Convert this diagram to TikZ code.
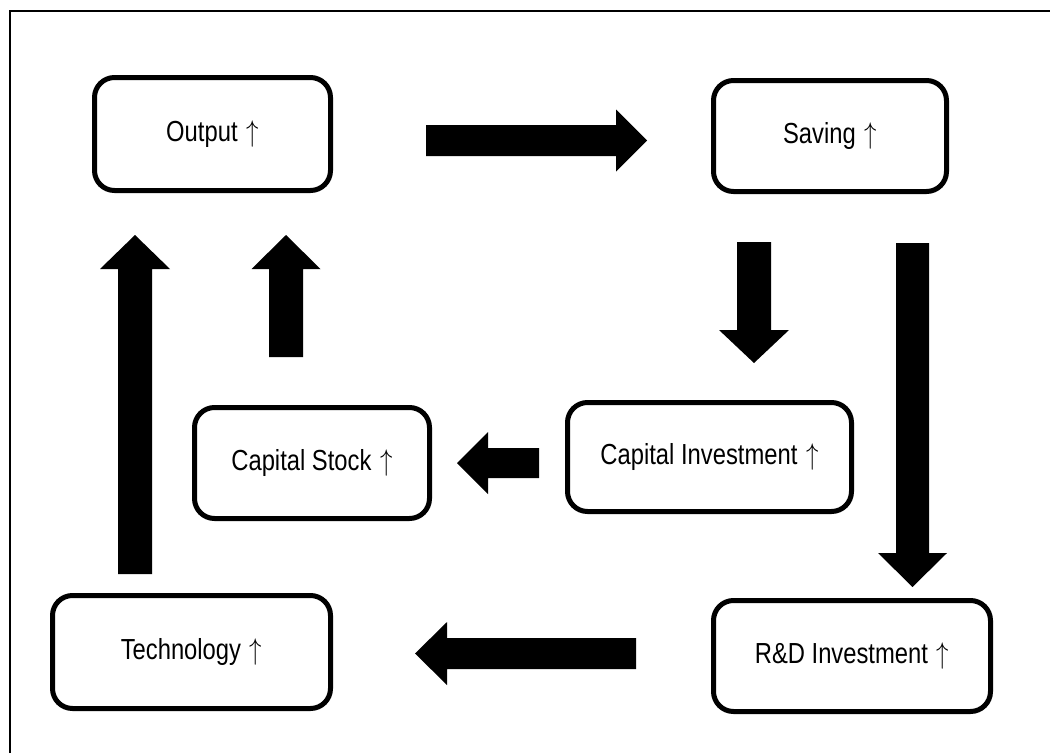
\documentclass[tikz,border=0pt]{standalone}
\usepackage{fontspec}
\setmainfont{Liberation Sans}[FakeStretch=0.82]
\usetikzlibrary{calc}
\newcommand\upar{\hspace{0.3em}\scalebox{1}[1.2]{\(\uparrow\)}}
\tikzset{
  box/.style={draw, line width=5pt, rounded corners=20pt, fill=white, align=center,
    inner sep=0pt, font=\fontsize{29pt}{34pt}\selectfont},
  frameline/.style={line width=2pt},
  arrowfill/.style={fill=black}
}
% block arrow from named start (#1) to named tip (#2):
% #3 half shaft width, #4 half head width, #5 head length
\newcommand\blockarrow[5]{%
  \coordinate (tmpB) at ($(#2)!#5!(#1)$);
  \fill[arrowfill] ($(#1)!#3!90:(#2)$) -- ($(tmpB)!#3!90:(#2)$) -- ($(tmpB)!#4!90:(#2)$)
    -- (#2) -- ($(tmpB)!#4!-90:(#2)$) -- ($(tmpB)!#3!-90:(#2)$) -- ($(#1)!#3!-90:(#2)$) -- cycle;
}
\begin{document}
\begin{tikzpicture}[x=1pt,y=-1pt]
\useasboundingbox (0,0) rectangle (1050,753);
% frame
\draw[frameline] (10,753) -- (10,11) -- (1050,11);
% boxes
\node[box, minimum width=236pt, minimum height=113pt] (out) at (212.5,134) {Output\upar};
\node[box, minimum width=233pt, minimum height=111pt] (sav) at (830,136) {Saving\upar};
\node[box, minimum width=284pt, minimum height=109pt] (cinv) at (709.5,457) {Capital Investment\upar};
\node[box, minimum width=235pt, minimum height=111pt] (cst) at (312,463) {Capital Stock\upar};
\node[box, minimum width=278pt, minimum height=113pt] (tech) at (191.5,652) {Technology\upar};
\node[box, minimum width=277pt, minimum height=111pt] (rd) at (852,656) {R\&D Investment\upar};
% connector end points
\coordinate (a1s) at (426,140.5);   \coordinate (a1e) at (647,140.5);
\coordinate (a2s) at (754,242);     \coordinate (a2e) at (754,363);
\coordinate (a3s) at (912.5,243);   \coordinate (a3e) at (912.5,587);
\coordinate (a4s) at (539,463);     \coordinate (a4e) at (457,463);
\coordinate (a5s) at (286,357);     \coordinate (a5e) at (286,235);
\coordinate (a6s) at (135,574);     \coordinate (a6e) at (135,235);
\coordinate (a7s) at (636,653.5);   \coordinate (a7e) at (415,653.5);
% block arrows
\blockarrow{a1s}{a1e}{15.5pt}{31pt}{31pt}
\blockarrow{a2s}{a2e}{17pt}{35pt}{33pt}
\blockarrow{a3s}{a3e}{16.5pt}{34.5pt}{34pt}
\blockarrow{a4s}{a4e}{15pt}{31pt}{31pt}
\blockarrow{a5s}{a5e}{17pt}{34.5pt}{34pt}
\blockarrow{a6s}{a6e}{17pt}{35pt}{34pt}
\blockarrow{a7s}{a7e}{15.5pt}{31.5pt}{32pt}
\end{tikzpicture}
\end{document}
